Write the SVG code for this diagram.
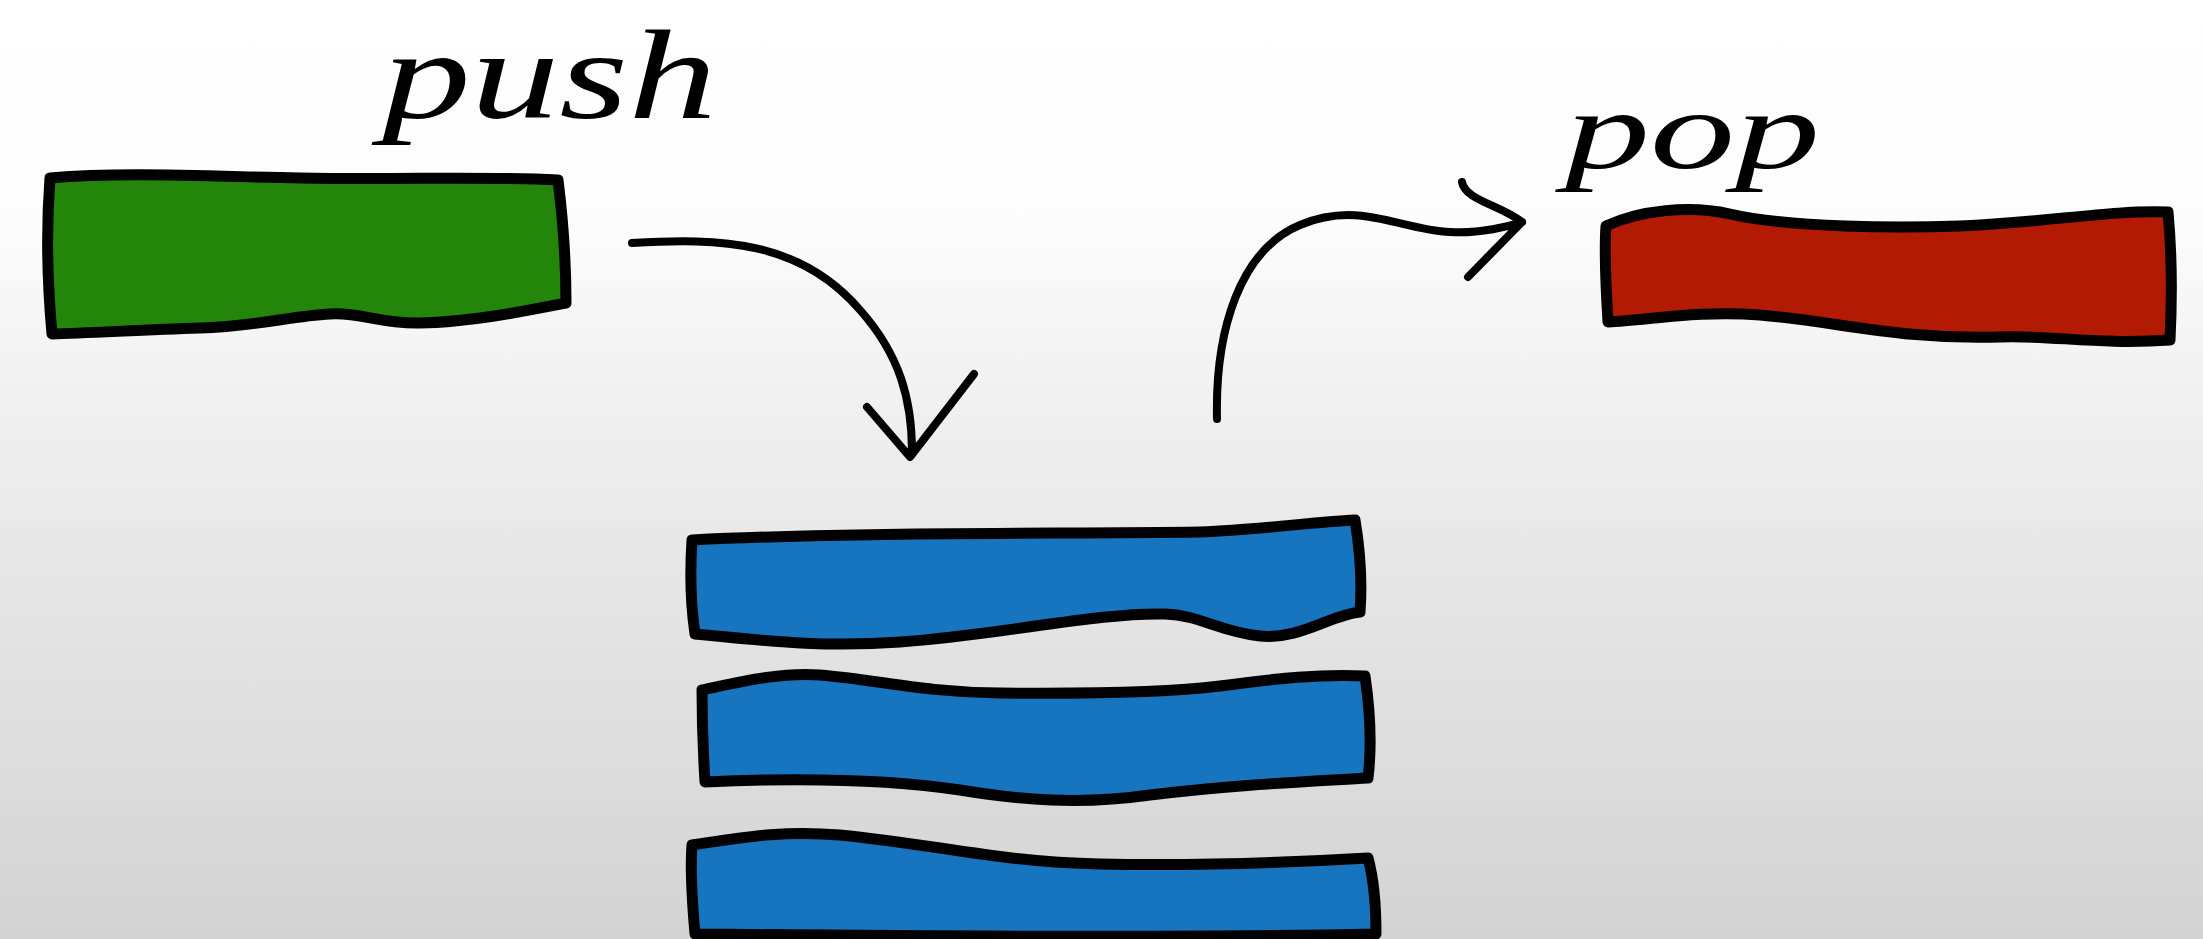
<svg xmlns="http://www.w3.org/2000/svg" width="2203" height="939" viewBox="0 0 2203 939">
<defs>
<linearGradient id="bg" x1="0" y1="0" x2="0" y2="1">
<stop offset="0" stop-color="#ffffff"/>
<stop offset="0.22" stop-color="#fdfdfd"/>
<stop offset="0.5" stop-color="#ececec"/>
<stop offset="1" stop-color="#d3d3d3"/>
</linearGradient>
<style>
.box{stroke:#000;stroke-width:11;stroke-linejoin:round;stroke-linecap:round}
.green{fill:#23860b}
.red{fill:#b31a04}
.blue{fill:#1775c0}
.arrow{fill:none;stroke:#000;stroke-width:8;stroke-linecap:round;stroke-linejoin:round}
.label{font-family:"Liberation Serif","DejaVu Serif",serif;font-style:italic;fill:#000}
</style>
</defs>
<rect width="2203" height="939" fill="url(#bg)"/>
<g id="push-label"><text class="label" x="382" y="118" font-size="128" textLength="335" lengthAdjust="spacingAndGlyphs">push</text></g>
<g id="pop-label"><text class="label" x="1565" y="168" font-size="112" textLength="255" lengthAdjust="spacingAndGlyphs">pop</text></g>
<g id="push-item"><path class="box green" d="M50,178 C120,172 200,176 300,178 C400,180 480,176 558,180 C563,220 566,260 566,303 C520,312 470,322 420,323 C380,324 360,312 330,314 C290,316 260,326 200,328 C140,330 90,333 52,334 C48,290 46,230 50,178 Z"/></g>
<g id="pop-item"><path class="box red" d="M1606,226 C1640,210 1690,205 1730,214 C1790,228 1900,228 1960,226 C2050,222 2110,210 2168,212 C2172,255 2172,300 2170,340 C2100,345 2050,335 2000,337 C1900,340 1840,322 1760,315 C1700,310 1650,320 1608,322 C1606,290 1604,255 1606,226 Z"/></g>
<g id="stack-1"><path class="box blue" d="M692,540 C850,532 1050,534 1200,532 C1260,530 1310,522 1355,520 C1360,550 1362,585 1360,612 C1330,615 1300,640 1260,636 C1220,632 1200,615 1165,614 C1100,612 1000,635 900,642 C820,648 760,640 695,634 C690,600 690,570 692,540 Z"/></g>
<g id="stack-2"><path class="box blue" d="M702,690 C740,682 780,672 820,675 C880,680 920,692 1000,693 C1100,694 1170,692 1220,686 C1280,678 1320,674 1365,676 C1370,710 1372,745 1368,778 C1300,782 1230,785 1150,795 C1080,805 1020,800 960,790 C880,778 790,778 705,782 C703,750 702,720 702,690 Z"/></g>
<g id="stack-3"><path class="box blue" d="M692,845 C740,838 780,830 840,835 C940,845 1000,862 1100,864 C1200,866 1300,862 1368,858 C1374,880 1376,910 1376,934 C1200,938 900,936 695,934 C692,900 690,870 692,845 Z"/></g>
<g id="connectors">
<path class="arrow" d="M632,243 C720,238 800,240 860,310 C900,355 912,400 912,452"/>
<path class="arrow" d="M867,407 L910,457 L974,374"/>
<path class="arrow" d="M1217,419 C1215,330 1240,250 1300,225 C1360,200 1400,230 1450,232 C1480,234 1510,226 1522,222"/>
<path class="arrow" d="M1462,182 C1465,200 1500,205 1522,222 L1468,277"/>
</g>
</svg>
